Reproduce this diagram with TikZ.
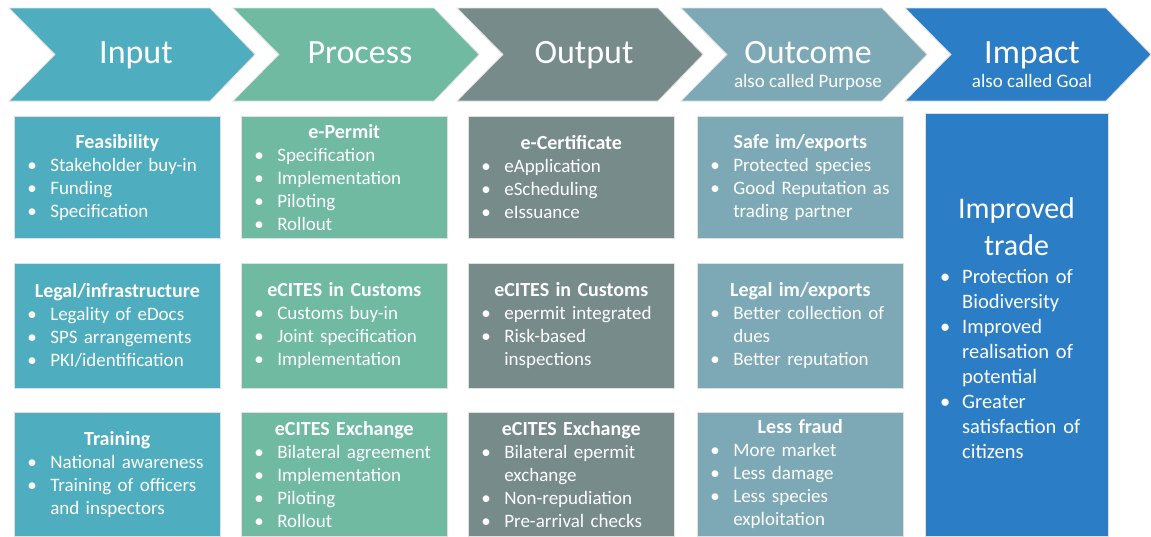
\documentclass[tikz,border=0pt]{standalone}
\usepackage{fontspec}
\setmainfont{Carlito}
\definecolor{cin}{HTML}{4FADC0}
\definecolor{cpr}{HTML}{6FBAA0}
\definecolor{cou}{HTML}{778B8B}
\definecolor{coc}{HTML}{7DA9B7}
\definecolor{cim}{HTML}{2B7DC5}
\newcommand{\bi}[1]{\makebox[28pt][l]{\hspace{5pt}•}\mbox{#1}}
\newcommand{\bc}[1]{\hspace*{28pt}\mbox{#1}}
\newcommand{\ttl}[1]{\makebox[190pt]{\fontsize{20}{23}\selectfont\bfseries #1}}
\newcommand{\ib}[1]{\makebox[37pt][l]{\hspace{15pt}•}\mbox{#1}}
\newcommand{\ic}[1]{\hspace*{37pt}\mbox{#1}}
\newcommand{\chevshape}[2]{\filldraw[chev, fill=#2] (#1,8) -- ++(201,0) -- ++(45,46.5) -- ++(-45,46.5) -- ++(-201,0) -- ++(46,-46.5) -- cycle;}
\begin{document}
\begin{tikzpicture}[x=1pt,y=-1pt,
 chev/.style={draw=black!12, line width=0.8pt},
 hdr/.style={text=white, font=\fontsize{34}{40}\selectfont, anchor=base, inner sep=0pt},
 sub/.style={text=white, font=\fontsize{19}{22}\selectfont, anchor=base, inner sep=0pt},
 card/.style={draw=black!12, line width=0.6pt, text=white, font=\fontsize{19}{23}\selectfont, text width=190pt, align=left, inner xsep=8pt, inner ysep=0pt, minimum width=206pt, anchor=north west},
]
\useasboundingbox[fill=white] (0,0) rectangle (1151,536);

% header chevrons
\chevshape{9}{cin}
\chevshape{233}{cpr}
\chevshape{457}{cou}
\chevshape{681}{coc}
\chevshape{905}{cim}

\node[hdr] (hin) at (136,63) {Input};
\node[hdr] (hpr) at (360,63) {Process};
\node[hdr] (hou) at (584,63) {Output};
\node[hdr] (hoc) at (808,63) {Outcome};
\node[sub] (soc) at (808,87) {also called Purpose};
\node[hdr] (him) at (1032,63) {Impact};
\node[sub] (sim) at (1032,87) {also called Goal};

% column 1: Input
\node[card, fill=cin, minimum height=122pt] (in1) at (14,116) {\ttl{Feasibility}\\ \bi{Stakeholder buy-in}\\ \bi{Funding}\\ \bi{Specification}};
\node[card, fill=cin, minimum height=125pt] (in2) at (14,263) {\ttl{Legal/infrastructure}\\ \bi{Legality of eDocs}\\ \bi{SPS arrangements}\\ \bi{PKI/identification}};
\node[card, fill=cin, minimum height=124pt] (in3) at (14,412) {\ttl{Training}\\ \bi{National awareness}\\ \bi{Training of officers}\\ \bc{and inspectors}};

% column 2: Process
\node[card, fill=cpr, minimum height=122pt] (pr1) at (241,116) {\ttl{e-Permit}\\ \bi{Specification}\\ \bi{Implementation}\\ \bi{Piloting}\\ \bi{Rollout}};
\node[card, fill=cpr, minimum height=125pt] (pr2) at (241,263) {\ttl{eCITES in Customs}\\ \bi{Customs buy-in}\\ \bi{Joint specification}\\ \bi{Implementation}};
\node[card, fill=cpr, minimum height=124pt] (pr3) at (241,412) {\ttl{eCITES Exchange}\\ \bi{Bilateral agreement}\\ \bi{Implementation}\\ \bi{Piloting}\\ \bi{Rollout}};

% column 3: Output
\node[card, fill=cou, minimum height=122pt] (ou1) at (468,116) {\ttl{e-Certificate}\\ \bi{eApplication}\\ \bi{eScheduling}\\ \bi{eIssuance}};
\node[card, fill=cou, minimum height=125pt] (ou2) at (468,263) {\ttl{eCITES in Customs}\\ \bi{epermit integrated}\\ \bi{Risk-based}\\ \bc{inspections}};
\node[card, fill=cou, minimum height=124pt] (ou3) at (468,412) {\ttl{eCITES Exchange}\\ \bi{Bilateral epermit}\\ \bc{exchange}\\ \bi{Non-repudiation}\\ \bi{Pre-arrival checks}};

% column 4: Outcome
\node[card, fill=coc, minimum height=122pt] (oc1) at (697,116) {\ttl{Safe im/exports}\\ \bi{Protected species}\\ \bi{Good Reputation as}\\ \bc{trading partner}};
\node[card, fill=coc, minimum height=125pt] (oc2) at (697,263) {\ttl{Legal im/exports}\\ \bi{Better collection of}\\ \bc{dues}\\ \bi{Better reputation}};
\node[card, fill=coc, minimum height=124pt] (oc3) at (697,412) {\ttl{Less fraud}\\ \bi{More market}\\ \bi{Less damage}\\ \bi{Less species}\\ \bc{exploitation}};

% column 5: Impact
\node[draw=black!12, line width=0.6pt, fill=cim, minimum width=183pt, minimum height=423pt, inner sep=0pt, anchor=north west] (imp) at (925,113) {};
\node[hdr, font=\fontsize{30}{36}\selectfont] (impt1) at (1016.5,218) {Improved};
\node[hdr, font=\fontsize{30}{36}\selectfont] (impt2) at (1016.5,255) {trade};
\node[text=white, font=\fontsize{20.5}{25}\selectfont, text width=183pt, align=left, inner sep=0pt, anchor=north west] (impl) at (925,269) {\ib{Protection of}\\ \ic{Biodiversity}\\ \ib{Improved}\\ \ic{realisation of}\\ \ic{potential}\\ \ib{Greater}\\ \ic{satisfaction of}\\ \ic{citizens}};
\end{tikzpicture}
\end{document}
